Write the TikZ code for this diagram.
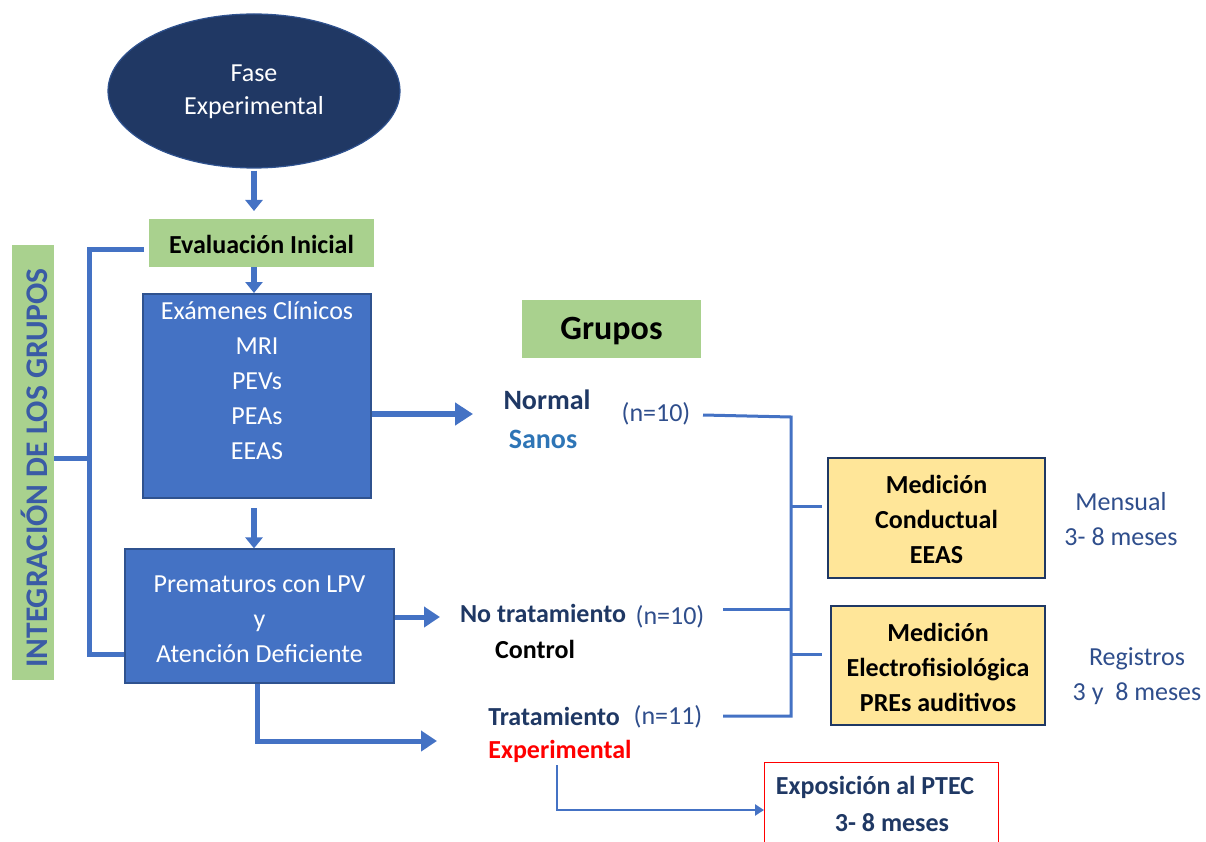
\documentclass[tikz,border=0pt]{standalone}
\usepackage{fontspec}
\setmainfont{Carlito}
\usetikzlibrary{shapes.geometric,arrows.meta}
\definecolor{navy}{HTML}{203864}
\definecolor{boxblue}{HTML}{4472C4}
\definecolor{boxedge}{HTML}{2F528F}
\definecolor{leaf}{HTML}{A9D18E}
\definecolor{sand}{HTML}{FFE699}
\definecolor{ink}{HTML}{1F3864}
\definecolor{softink}{HTML}{2F4E8C}
\definecolor{sky}{HTML}{2E75B6}
\definecolor{sidetext}{HTML}{3A5BA5}
\definecolor{alert}{HTML}{FF0000}
\newcommand{\fsz}{\fontsize{26}{35}\selectfont}
\begin{document}
\begin{tikzpicture}[x=1pt,y=-1pt,
  txt/.style={font=\fsz,align=center,inner sep=0pt},
  bluebox/.style={draw=boxedge,line width=1.2pt,fill=boxblue,inner sep=0pt},
  greenbox/.style={fill=leaf,inner sep=0pt},
  sandbox/.style={draw=ink,line width=1.2pt,fill=sand,inner sep=0pt},
  flowarrow/.style={draw=boxblue,line width=5.5pt,-{Triangle[width=17pt,length=11pt]}},
  widearrow/.style={draw=boxblue,line width=6pt,-{Triangle[width=22pt,length=18pt]}},
  link/.style={draw=boxblue,line width=3pt},
  frame/.style={draw=boxblue,line width=5pt}]
\useasboundingbox (0,0) rectangle (1206,842);

% start of the phase
\node[ellipse,draw=boxedge,line width=1.2pt,fill=navy,minimum width=292pt,minimum height=154pt,inner sep=0pt] (fase) at (254,91) {};
\node[txt,text=white,font=\fontsize{26}{33}\selectfont] (fasetxt) at (254,92) {Fase\\Experimental};

% initial assessment
\node[greenbox,minimum width=225pt,minimum height=48pt] (eval) at (261.5,243) {};
\node[txt,font=\fsz\bfseries] (evaltxt) at (261.5,244) {Evaluación Inicial};

% clinical exams
\node[bluebox,minimum width=228pt,minimum height=204pt] (exam) at (257,396) {};
\node[txt,text=white] (examtxt) at (257,381) {Exámenes Clínicos\\MRI\\PEVs\\PEAs\\EEAS};

% preterm group
\node[bluebox,minimum width=269pt,minimum height=134pt] (prem) at (259.5,616) {};
\node[txt,text=white] (premtxt) at (259.5,619) {Prematuros con LPV\\y\\Atención Deficiente};

% vertical flow
\coordinate (a1s) at (254,170);
\coordinate (a1e) at (254,211);
\coordinate (a2s) at (254,268);
\coordinate (a2e) at (254,293);
\coordinate (a3s) at (254,508);
\coordinate (a3e) at (254,547);
\draw[flowarrow] (fase.south -| a1s) ++(0,2) -- (a1e);
\draw[flowarrow] (eval.south -| a2s) -- (a2e);
\draw[flowarrow] (a3s) -- (prem.north -| a3e);

% side bar
\node[greenbox,minimum width=42pt,minimum height=435pt] (side) at (33,462.5) {};
\node[txt,font=\fontsize{31.5}{36}\selectfont\bfseries,text=sidetext,rotate=90] (sidetxt) at (34,468) {INTEGRACIÓN DE LOS GRUPOS};
\coordinate (ftop) at (89,249);
\coordinate (fbot) at (89,654);
\coordinate (fmid) at (89,458);
\coordinate (etop) at (144,249);
\draw[frame] (etop) -- (ftop) -- (fbot) -- (prem.west |- fbot);
\draw[frame] (side.east |- fmid) -- (fmid);

% groups
\node[greenbox,minimum width=179pt,minimum height=58pt] (grupos) at (611.5,329) {};
\node[txt,font=\fontsize{34}{40}\selectfont\bfseries] (grupostxt) at (611.5,331) {Grupos};

\node[txt,font=\fontsize{28}{34}\selectfont\bfseries,text=ink] (normal) at (547,400) {Normal};
\node[txt,font=\fontsize{28}{34}\selectfont\bfseries,text=sky] (sanos) at (543,439) {Sanos};
\node[txt,text=softink] (n1) at (656,414) {(n=10)};

\node[txt,font=\fsz\bfseries,text=ink] (notrat) at (543,613) {No tratamiento};
\node[txt,text=softink] (n2) at (670,617) {(n=10)};
\node[txt,font=\fsz\bfseries] (control) at (535,649) {Control};

\node[txt,font=\fsz\bfseries,text=ink] (trat) at (554,716) {Tratamiento};
\node[txt,text=softink] (n3) at (668,717) {(n=11)};
\node[txt,font=\fsz\bfseries,text=alert] (expt) at (560,751) {Experimental};

% arrows into the groups
\coordinate (normin) at (473,414);
\coordinate (ctrlin) at (440,617);
\coordinate (bend) at (257,741);
\coordinate (expin) at (437,741);
\draw[widearrow] (exam.east |- normin) -- (normin);
\draw[draw=boxblue,line width=5pt,-{Triangle[width=20pt,length=16pt]}] (prem.east |- ctrlin) -- (ctrlin);
\draw[draw=boxblue,line width=5pt,-{Triangle[width=20pt,length=16pt]}] (prem.south -| bend) -- (bend) -- (expin);

% measurements
\node[sandbox,minimum width=217pt,minimum height=120pt] (cond) at (936.5,518) {};
\node[txt,font=\fsz\bfseries] (condtxt) at (936.5,519) {Medición\\Conductual\\EEAS};
\node[sandbox,minimum width=214pt,minimum height=119pt] (elec) at (938,665.5) {};
\node[txt,font=\fsz\bfseries] (electxt) at (938,667) {Medición\\Electrofisiológica\\PREs auditivos};

\node[txt,text=softink] (mensual) at (1121,519) {Mensual\\3- 8 meses};
\node[txt,text=softink] (registros) at (1137,676) {Registros\\3 y \ 8 meses};

% joining bracket
\coordinate (j1) at (791,417);
\coordinate (j2) at (791,609);
\coordinate (j3) at (791,716);
\coordinate (jc) at (791,506);
\coordinate (je) at (791,654);
\coordinate (l1) at (703,415);
\coordinate (l2) at (723,609);
\coordinate (l3) at (723,716);
\coordinate (cin) at (822,506);
\coordinate (ein) at (822,654);
\draw[link] (l1) -- (j1) -- (j3) -- (l3);
\draw[link] (l2) -- (j2);
\draw[link] (jc) -- (cin);
\draw[link] (je) -- (ein);

% exposure
\node[draw=alert,line width=1.2pt,fill=white,minimum width=234pt,minimum height=110pt,inner sep=0pt,anchor=north west] (ptec) at (764,762) {};
\node[txt,font=\fsz\bfseries,text=ink] (ptectxt) at (875,787) {Exposición al PTEC};
\node[txt,font=\fsz\bfseries,text=ink] (ptecmes) at (892,823) {3- 8 meses};
\coordinate (pstart) at (557,765);
\coordinate (pbend) at (557,810);
\draw[draw=boxblue,line width=2.5pt,-{Triangle[width=11pt,length=9pt]}] (pstart) -- (pbend) -- (ptec.west |- pbend);
\end{tikzpicture}
\end{document}
